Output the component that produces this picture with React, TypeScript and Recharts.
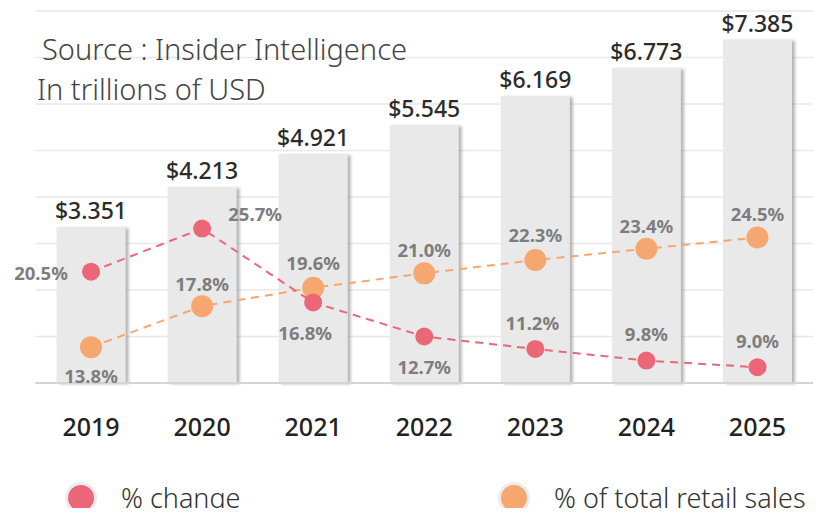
import React from 'react';
import {
  ComposedChart,
  Bar,
  Line,
  XAxis,
  YAxis,
  CartesianGrid,
  LabelList,
} from 'recharts';

const years = ['2019', '2020', '2021', '2022', '2023', '2024', '2025'];
const salesTrillions = [3.351, 4.213, 4.921, 5.545, 6.169, 6.773, 7.385];
const pctChange = [20.5, 25.7, 16.8, 12.7, 11.2, 9.8, 9.0];
const pctOfRetail = [13.8, 17.8, 19.6, 21.0, 22.3, 23.4, 24.5];
const leftTicks = [0, 1, 2, 3, 4, 5, 6, 7, 8];

const data = years.map((year, i) => ({
  year,
  sales: salesTrillions[i],
  change: pctChange[i],
  share: pctOfRetail[i],
}));

// label placement relative to each point
const shareLabelPos = [
  { dx: 0, dy: 29 },
  { dx: 0, dy: -22 },
  { dx: 0, dy: -24 },
  { dx: 0, dy: -23 },
  { dx: 0, dy: -24 },
  { dx: 0, dy: -22 },
  { dx: 0, dy: -23 },
];
const changeLabelPos = [
  { dx: -50, dy: 2 },
  { dx: 53, dy: -14 },
  { dx: -8, dy: 31 },
  { dx: 0, dy: 31 },
  { dx: -3, dy: -25 },
  { dx: 0, dy: -26 },
  { dx: 0, dy: -26 },
];

const RED = '#eb6677';
const ORANGE = '#f6a66f';
const LABEL_GRAY = '#7d7d7d';

const makePctLabel = (pos: { dx: number; dy: number }[]) => (props: any) => {
  const { x, y, value, index } = props;
  const p = pos[index] || { dx: 0, dy: -20 };
  return (
    <text
      x={x + p.dx}
      y={y + p.dy}
      dy="0.35em"
      textAnchor="middle"
      fill={LABEL_GRAY}
      fontFamily="'Noto Sans', sans-serif"
      fontWeight={700}
      fontSize={18.5}
    >
      {`${Number(value).toFixed(1)}%`}
    </text>
  );
};

const BarShape = (props: any) => {
  const { x, y, width, height } = props;
  return (
    <rect
      x={x}
      y={y}
      width={width}
      height={height}
      fill="#e9e9e9"
      filter="url(#barShadow)"
    />
  );
};

const YearTick = (props: any) => {
  const { x, y, payload } = props;
  return (
    <text
      x={x}
      y={y + 36}
      dy="0.35em"
      textAnchor="middle"
      fill="#222"
      fontFamily="'Noto Sans', sans-serif"
      fontWeight={500}
      fontSize={25}
    >
      {payload.value}
    </text>
  );
};

const LegendDot = ({ color }: { color: string }) => (
  <span
    style={{
      display: 'inline-block',
      width: 26,
      height: 26,
      borderRadius: '50%',
      background: color,
      border: '3px solid #ececec',
      marginRight: 24,
    }}
  />
);

const App: React.FC = () => {
  return (
    <div style={{ position: 'relative', width: 811, height: 500 }}>
      <svg width={0} height={0} style={{ position: 'absolute' }}>
        <defs>
          <filter id="barShadow" x="-10%" y="-5%" width="130%" height="110%">
            <feDropShadow dx={3} dy={1} stdDeviation={1.6} floodColor="#777" floodOpacity={0.55} />
          </filter>
        </defs>
      </svg>

      <ComposedChart
        width={811}
        height={460}
        data={data}
        margin={{ top: 3, right: 6, left: 27.5, bottom: 25 }}
      >
        <CartesianGrid
          vertical={false}
          yAxisId="sales"
          stroke="#e8e8e8"
          strokeWidth={1.5}
        />
        <XAxis
          dataKey="year"
          height={60}
          tickLine={false}
          axisLine={{ stroke: '#d4d4d4', strokeWidth: 2 }}
          tick={<YearTick />}
        />
        <YAxis yAxisId="sales" hide domain={[0, 8]} ticks={leftTicks} />
        <YAxis yAxisId="change" hide domain={[7.1, 51.9]} />
        <YAxis yAxisId="share" hide domain={[10.3, 46.6]} orientation="right" />
        <Bar
          yAxisId="sales"
          dataKey="sales"
          barSize={69}
          shape={<BarShape />}
          isAnimationActive={false}
        >
          <LabelList
            dataKey="sales"
            position="top"
            offset={8}
            formatter={(v: any) => `$${Number(v).toFixed(3)}`}
            style={{
              fill: '#2b2b2b',
              fontFamily: "'Noto Sans', sans-serif",
              fontWeight: 500,
              fontSize: 23,
            }}
          />
        </Bar>
        <Line
          yAxisId="share"
          dataKey="share"
          stroke={ORANGE}
          strokeWidth={2}
          strokeDasharray="8 6"
          dot={{ r: 11, fill: ORANGE, stroke: 'none' }}
          activeDot={false}
          isAnimationActive={false}
        >
          <LabelList dataKey="share" content={makePctLabel(shareLabelPos)} />
        </Line>
        <Line
          yAxisId="change"
          dataKey="change"
          stroke={RED}
          strokeWidth={2}
          strokeDasharray="8 6"
          dot={{ r: 9, fill: RED, stroke: 'none' }}
          activeDot={false}
          isAnimationActive={false}
        >
          <LabelList dataKey="change" content={makePctLabel(changeLabelPos)} />
        </Line>
      </ComposedChart>

      <div
        style={{
          position: 'absolute',
          left: 29,
          top: 21,
          fontFamily: "'Noto Sans', sans-serif",
          fontWeight: 300,
          fontSize: 29,
          color: '#444',
          lineHeight: '40px',
        }}
      >
        <div style={{ paddingLeft: 5 }}>Source : Insider Intelligence</div>
        <div>In trillions of USD</div>
      </div>

      <div
        style={{
          position: 'absolute',
          left: 57,
          top: 474,
          height: 32,
          display: 'flex',
          alignItems: 'center',
          fontFamily: "'Noto Sans', sans-serif",
          fontWeight: 300,
          fontSize: 27,
          lineHeight: '30px',
          color: '#333',
        }}
      >
        <LegendDot color={RED} />
        <span style={{ width: 377 }}>% change</span>
        <LegendDot color={ORANGE} />
        <span>% of total retail sales</span>
      </div>
    </div>
  );
};

export default App;
